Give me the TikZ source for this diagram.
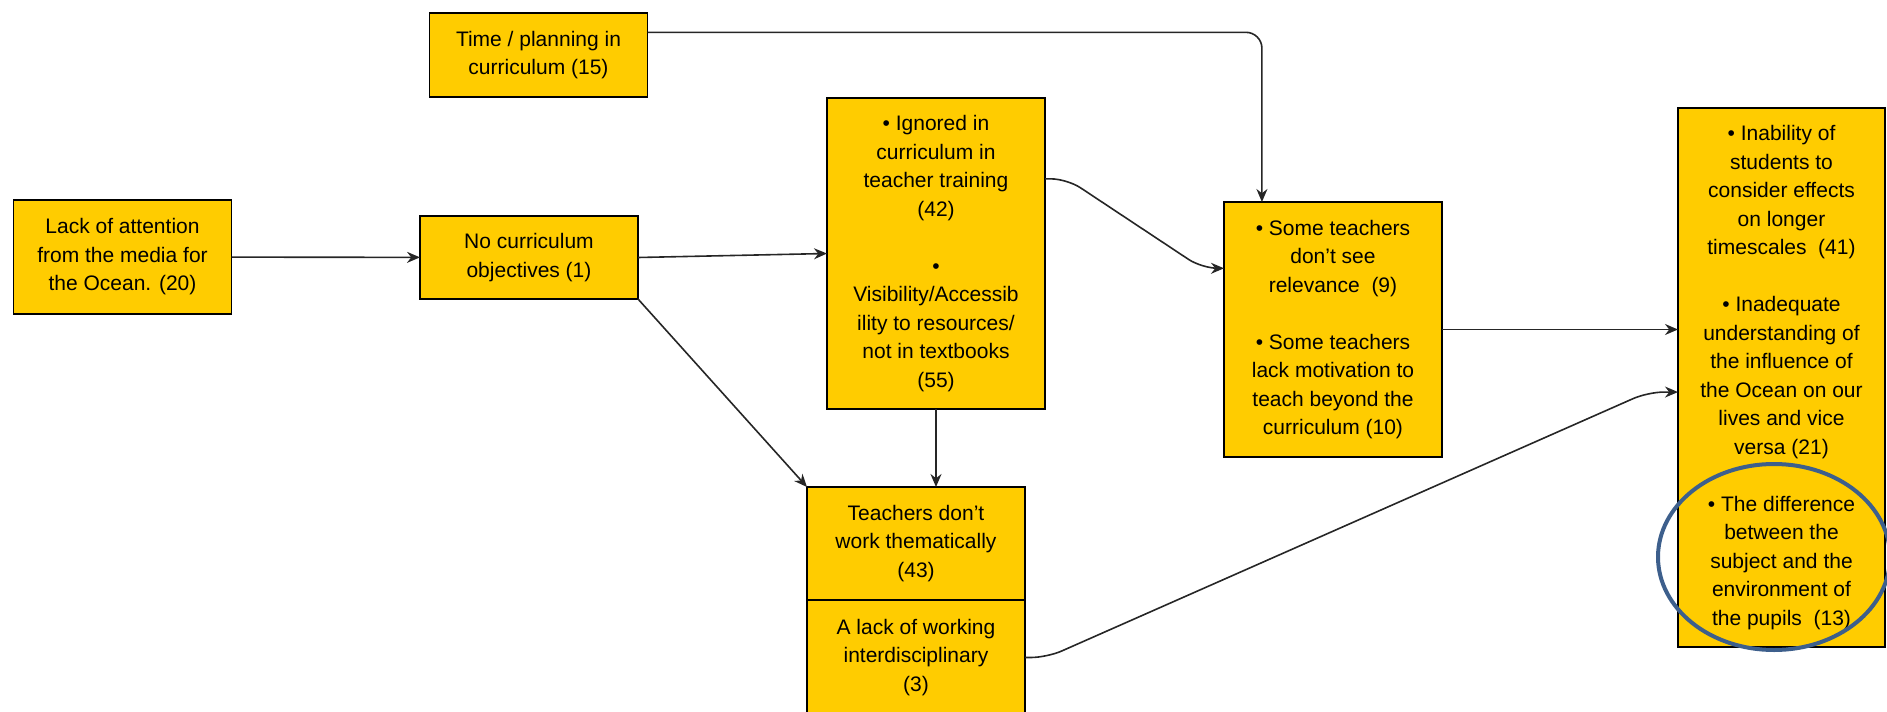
\documentclass[tikz,border=0pt]{standalone}
\usepackage{fontspec}
\setmainfont{Liberation Sans}
\usetikzlibrary{positioning,calc,arrows.meta}
\definecolor{boxyellow}{RGB}{255,204,0}
\definecolor{markblue}{RGB}{61,95,140}

\begin{document}
\begin{tikzpicture}[x=0.5pt,y=-0.5pt,
        >={Stealth[length=6.5pt,width=5.5pt]},
        box/.style={minimum width=109pt},
        link/.style={->,line width=0.8pt,draw=black!85,rounded corners=8pt}]
  \tikzstyle{every node}=[draw,fill=boxyellow,align=center,line width=0.75pt,
    inner sep=0pt,outer sep=0pt,font=\fontsize{10.5}{14.25}\selectfont]
  \useasboundingbox (0,0) rectangle (1887,712);
  % causes
  \node[box,minimum height=42pt] (time) at (538.5,55) {Time / planning in\\curriculum (15)};
  \node[box,minimum height=57pt] (lack) at (122.5,257) {Lack of attention\\from the media for\\the Ocean. (20)};
  \node[box,minimum height=41.5pt] (nocurr) at (529,257.5) {No curriculum\\objectives (1)};
  \node[box,minimum height=155.5pt] (ignored) at (936,253.5)
    {• Ignored in\\curriculum in\\teacher training\\(42)\\[14.25pt]•\\Visibility/Accessib\\ility to resources/\\not in textbooks\\(55)};
  \node[box,minimum height=127.5pt] (relevance) at (1333,329.5)
    {• Some teachers\\don’t see\\relevance~~(9)\\[14.25pt]• Some teachers\\lack motivation to\\teach beyond the\\curriculum (10)};
  \node[box,minimum height=56.5pt] (thematic) at (916,543.5) {Teachers don’t\\work thematically\\(43)};
  \node[box,minimum height=57.5pt,below=0pt of thematic] (interdisc) {A lack of working\\interdisciplinary\\(3)};
  % effects
  \node[minimum width=103.5pt,minimum height=269.5pt] (outcome) at (1781.5,377.5)
    {• Inability of\\students to\\consider effects\\on longer\\timescales~~(41)\\[14.25pt]%
     • Inadequate\\understanding of\\the influence of\\the Ocean on our\\lives and vice\\versa (21)\\[14.25pt]%
     • The difference\\between the\\subject and the\\environment of\\the pupils~~(13)};
  \draw[markblue,line width=2pt] (1774,557) ellipse [x radius=58pt,y radius=46.5pt];

  \coordinate (timeOut) at ($(time.north east)!0.23!(time.south east)$);
  \coordinate (relTop) at ($(relevance.north west)!0.174!(relevance.north east)$);
  \coordinate (ignOut) at ($(ignored.north east)!0.26!(ignored.south east)$);
  \coordinate (relIn) at ($(relevance.north west)!0.26!(relevance.south west)$);
  \coordinate (outIn) at ($(outcome.north west)!0.527!(outcome.south west)$);

  \draw[link] (lack) -- (nocurr);
  \draw[link] (nocurr.east) -- (ignored.west);
  \draw[link] (nocurr.south east) -- (thematic.north west);
  \draw[link] (ignored.south) -- (ignored.south |- thematic.north);
  \draw[link] (ignOut) -- ++(22,0) -- ($(relIn)+(-22,0)$) -- (relIn);
  \draw[link] (timeOut) -| (relTop);
  \draw[link] (relevance.east) -- (relevance.east -| outcome.west);
  \draw[link] (interdisc.east) -- ++(22,0) -- ($(outIn)+(-30,0)$) -- (outIn);
\end{tikzpicture}
\end{document}
